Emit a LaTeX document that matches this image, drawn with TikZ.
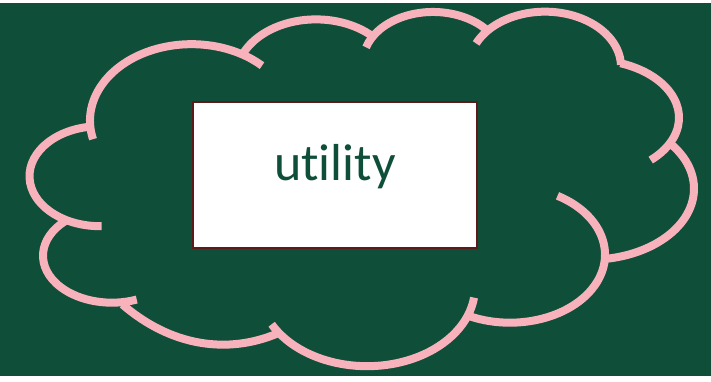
\documentclass[tikz,border=0pt]{standalone}
\usepackage{fontspec}
\setmainfont{Carlito}[Ligatures=NoCommon]
\usetikzlibrary{positioning}
\definecolor{bggreen}{RGB}{15,79,58}
\definecolor{puffpink}{RGB}{248,178,188}
\definecolor{boxred}{RGB}{92,26,26}

\begin{document}
\begin{tikzpicture}[x=1pt,y=-1pt,
 puff/.style={draw=puffpink,line width=8pt},
 box/.style={draw=boxred,line width=2.5pt,fill=white,minimum width=284pt,minimum height=146pt},
 word/.style={text=bggreen,font=\fontsize{52}{62}\selectfont}]
\fill[bggreen] (0,0) rectangle (711,373);
% cloud, one arc per bump, clockwise from the left
\draw[puff] (100,173.5) ++(262:70.5 and 50) arc[start angle=262,end angle=88.6,x radius=70.5,y radius=50];
\draw[puff] (191.5,118) ++(166:101.5 and 76.5) arc[start angle=166,end angle=314,x radius=101.5,y radius=76.5];
\draw[puff] (316,74.7) ++(-158:80 and 58) arc[start angle=-158,end angle=-45,x radius=80,y radius=58];
\draw[puff] (433,59.3) ++(-163:70 and 50) arc[start angle=-163,end angle=-38,x radius=70,y radius=50];
\draw[puff] (545,64) ++(-155:76 and 55) arc[start angle=-155,end angle=-2,x radius=76,y radius=55];
\draw[puff] (590,115) ++(-70:89 and 58) arc[start angle=-70,end angle=47,x radius=89,y radius=58];
\draw[puff] (590,186) ++(-40.5:104 and 71) arc[start angle=-40.5,end angle=80.6,x radius=104,y radius=71];
\draw[puff] (510,252) ++(-60:95 and 68) arc[start angle=-60,end angle=116,x radius=95,y radius=68];
\draw[puff] (367,284.5) ++(152:108 and 79) arc[start angle=152,end angle=7.6,x radius=108,y radius=79];
\draw[puff] (223,46) ++(120.2:200 and 296) arc[start angle=120.2,end angle=73.4,x radius=200,y radius=296];
\draw[puff] (112,253) ++(228:69 and 47) arc[start angle=228,end angle=69,x radius=69,y radius=47];
% the box
\node[box] (util) at (335,172.5) {};
\node[word] (label) at (335,163.5) {utility};
\end{tikzpicture}
\end{document}
